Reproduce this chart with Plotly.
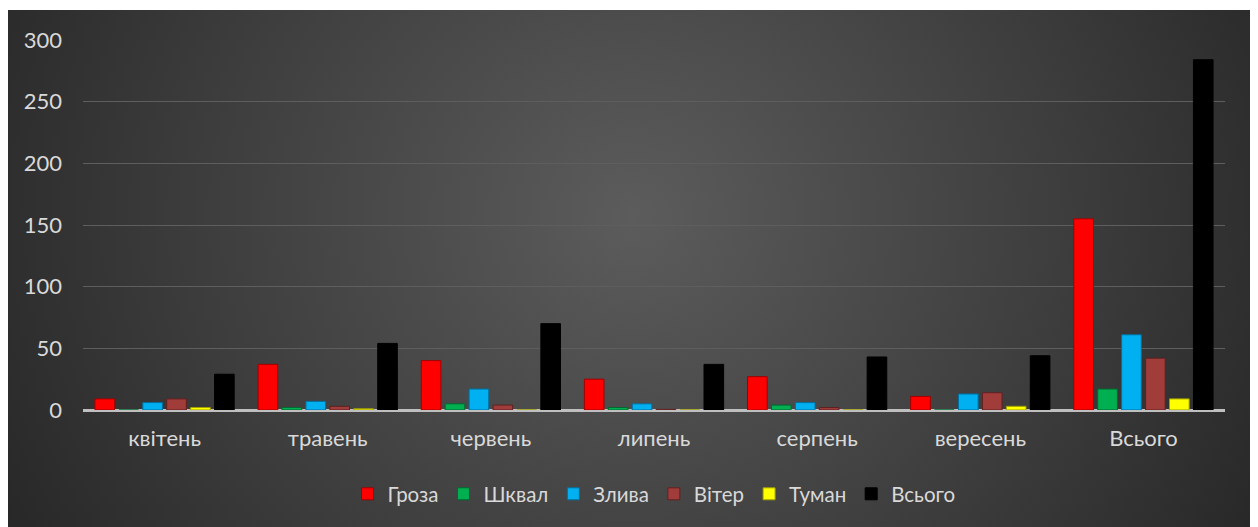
import plotly.graph_objects as go
import base64

categories = ["квітень", "травень", "червень", "липень", "серпень", "вересень", "Всього"]
series_names = ["Гроза", "Шквал", "Злива", "Вітер", "Туман", "Всього"]
groza = [9, 37, 40, 25, 27, 11, 155]
shkval = [0, 2, 5, 2, 4, 0, 17]
zlyva = [6, 7, 17, 5, 6, 13, 61]
viter = [9, 3, 4, 0.5, 2, 14, 42]
tuman = [2, 1, 0, 0, 0, 3, 9]
vsogo = [29, 54, 70, 37, 43, 44, 284]
y_ticks = [0, 50, 100, 150, 200, 250, 300]

values = [groza, shkval, zlyva, viter, tuman, vsogo]
colors = ["#ff0000", "#00b050", "#00b0f0", "#a03c3a", "#ffff00", "#000000"]
lines = ["#a00000", "#006830", "#0070a0", "#602020", "#a0a000", "#000000"]

W, H = 1250, 519
L, T, R, B = 75, 32, 33, 117
PW, PH = W - L - R, H - T - B

svg = """<svg xmlns='http://www.w3.org/2000/svg' width='1250' height='517' viewBox='0 0 1250 517' preserveAspectRatio='none'>
<defs><radialGradient id='g' cx='50%' cy='40%' r='65%' gradientTransform='translate(0.5 0.4) scale(1 2.2) translate(-0.5 -0.4)'>
<stop offset='0' stop-color='#5c5c5c'/><stop offset='0.55' stop-color='#3c3c3c'/><stop offset='1' stop-color='#202020'/></radialGradient></defs>
<rect width='1250' height='517' fill='url(#g)'/></svg>"""
src = "data:image/svg+xml;base64," + base64.b64encode(svg.encode()).decode()

fig = go.Figure()
for name, vals, c, lc in zip(series_names, values, colors, lines):
    fig.add_trace(go.Bar(x=categories, y=vals, name=name,
                         marker=dict(color=c, line=dict(color=lc, width=1))))

fig.update_layout(
    width=W, height=H,
    barmode="group", bargap=0.12, bargroupgap=0.18,
    paper_bgcolor="white", plot_bgcolor="rgba(0,0,0,0)",
    margin=dict(l=L, r=R, t=T, b=B),
    font=dict(family="Lato", size=22, color="#d9d9d9"),
    showlegend=True,
    legend=dict(orientation="h", x=0.5, xanchor="center", y=-(486 - (T + PH)) / PH, yanchor="middle",
                font=dict(size=20.5, color="#d9d9d9"), bgcolor="rgba(0,0,0,0)",
                itemwidth=30, traceorder="normal"),
    images=[dict(source=src, xref="paper", yref="paper",
                 x=-L / PW, y=1 + (T - 2) / PH,
                 sizex=W / PW, sizey=(H - 2) / PH,
                 xanchor="left", yanchor="top", sizing="stretch", layer="below")],
    xaxis=dict(showgrid=False, ticks="", showline=False, ticklabelstandoff=13,
               tickfont=dict(size=22, color="#d9d9d9")),
    yaxis=dict(range=[0, 300], tickvals=y_ticks, showgrid=True, gridcolor="#5e5e5e", gridwidth=1,
               zeroline=True, zerolinecolor="#bfbfbf", zerolinewidth=3,
               tickfont=dict(size=22, color="#d9d9d9"), ticklabelstandoff=20, showline=False),
)
fig.write_html("out.html")
